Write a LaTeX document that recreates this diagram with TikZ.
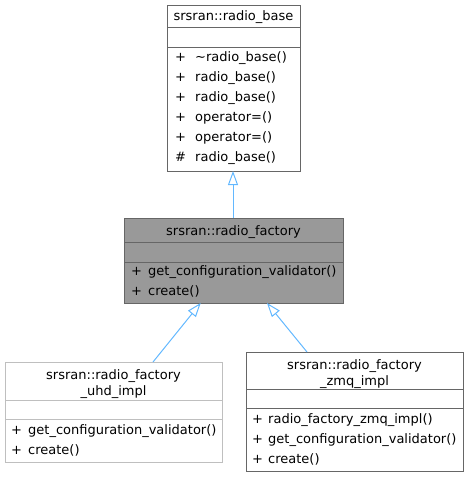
\documentclass[tikz,border=0pt]{standalone}
\usepackage{fontspec}
\setmainfont{DejaVu Sans}
\usetikzlibrary{arrows.meta}
\definecolor{edgegray}{HTML}{666666}
\definecolor{lightgray}{HTML}{BFBFBF}
\definecolor{fillgray}{HTML}{999999}
\definecolor{arrowblue}{HTML}{63B8FF}
\begin{document}
\begin{tikzpicture}[x=1bp,y=-1bp,
  every node/.style={font=\fontsize{13bp}{15bp}\selectfont, inner sep=0pt, text=black},
  box/.style={draw=edgegray, line width=1bp, rectangle, anchor=north west, inner sep=0pt},
  lbox/.style={box, draw=lightgray},
  sepline/.style={draw=edgegray, line width=1bp},
  lsepline/.style={draw=lightgray, line width=1bp},
  title/.style={anchor=base},
  memb/.style={anchor=base west},
  inherit/.style={draw=arrowblue, line width=1bp, -{Triangle[open, length=14bp, width=10bp, line width=1bp]}}
]
\useasboundingbox (0,0) rectangle (469,477);

% radio_base
\node[box, minimum width=133bp, minimum height=166bp, fill=white] (b1) at (167,5) {};
\draw[sepline] (167,28) -- (300,28);
\draw[sepline] (167,48) -- (300,48);
\node[title] (b1t) at (233.5,21) {srsran::radio\_base};
\node[memb] (b1p1) at (175,62) {+};
\node[memb] (b1m1) at (195,62) {\textasciitilde radio\_base()};
\node[memb] (b1p2) at (175,82) {+};
\node[memb] (b1m2) at (195,82) {radio\_base()};
\node[memb] (b1p3) at (175,102) {+};
\node[memb] (b1m3) at (195,102) {radio\_base()};
\node[memb] (b1p4) at (175,122) {+};
\node[memb] (b1m4) at (195,122) {operator=()};
\node[memb] (b1p5) at (175,142) {+};
\node[memb] (b1m5) at (195,142) {operator=()};
\node[memb] (b1p6) at (175,162) {\#};
\node[memb] (b1m6) at (195,162) {radio\_base()};

% radio_factory
\node[box, minimum width=219bp, minimum height=85bp, fill=fillgray] (b2) at (124,218) {};
\draw[sepline] (124,242) -- (343,242);
\draw[sepline] (124,262) -- (343,262);
\node[title] (b2t) at (233.5,235) {srsran::radio\_factory};
\node[memb] (b2p1) at (131,275) {+};
\node[memb] (b2m1) at (148,275) {get\_configuration\_validator()};
\node[memb] (b2p2) at (131,295) {+};
\node[memb] (b2m2) at (148,295) {create()};

% radio_factory_uhd_impl
\node[lbox, minimum width=217bp, minimum height=100bp, fill=white] (b3) at (5,362) {};
\draw[lsepline] (5,400) -- (222,400);
\draw[lsepline] (5,419) -- (222,419);
\node[title] (b3t1) at (113.5,379) {srsran::radio\_factory};
\node[title] (b3t2) at (113.5,395) {\_uhd\_impl};
\node[memb] (b3p1) at (11,434.5) {+};
\node[memb] (b3m1) at (28,434.5) {get\_configuration\_validator()};
\node[memb] (b3p2) at (11,454) {+};
\node[memb] (b3m2) at (28,454) {create()};

% radio_factory_zmq_impl
\node[box, minimum width=217bp, minimum height=119bp, fill=white] (b4) at (246,352) {};
\draw[sepline] (246,389) -- (463,389);
\draw[sepline] (246,408) -- (463,408);
\node[title] (b4t1) at (354.5,369) {srsran::radio\_factory};
\node[title] (b4t2) at (354.5,385) {\_zmq\_impl};
\node[memb] (b4p1) at (252,423) {+};
\node[memb] (b4m1) at (268,423) {radio\_factory\_zmq\_impl()};
\node[memb] (b4p2) at (252,443) {+};
\node[memb] (b4m2) at (268,443) {get\_configuration\_validator()};
\node[memb] (b4p3) at (252,463) {+};
\node[memb] (b4m3) at (268,463) {create()};

% inheritance
\coordinate (c2top) at (233,218);
\coordinate (c1bot) at (233,171);
\draw[inherit] (c2top) -- (c1bot);
\coordinate (c3top) at (153,362);
\coordinate (c2l) at (200.7,303);
\draw[inherit] (c3top) -- (c2l);
\coordinate (c4top) at (307,352);
\coordinate (c2r) at (267,303);
\draw[inherit] (c4top) -- (c2r);
\end{tikzpicture}
\end{document}
